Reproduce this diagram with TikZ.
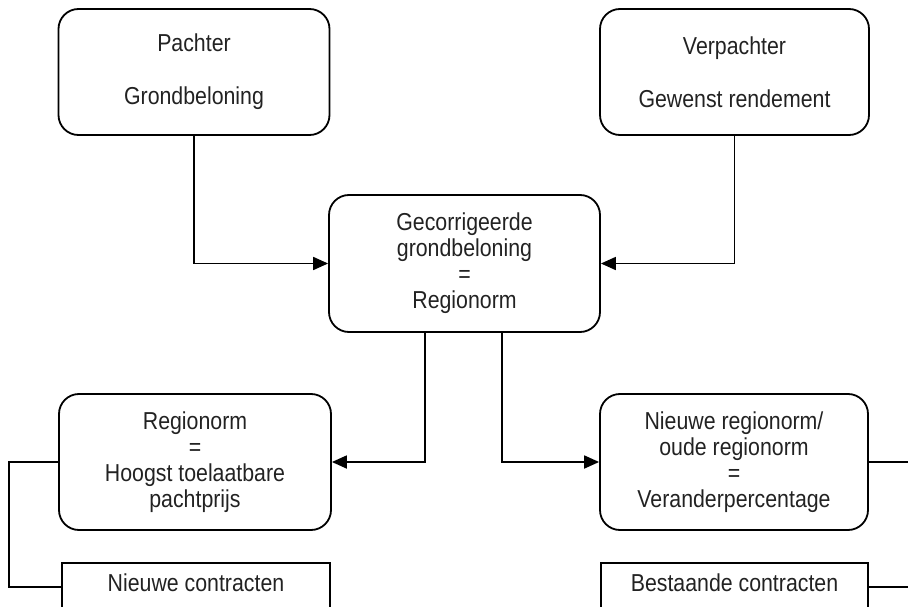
\documentclass[tikz,border=0pt]{standalone}
\usepackage{fontspec}
\newfontfamily\dfont{Liberation Sans}[FakeStretch=0.87]
\usetikzlibrary{arrows.meta}
\definecolor{txt}{RGB}{34,34,34}
\begin{document}
\begin{tikzpicture}[x=1pt,y=-1pt,
  box/.style={draw, line width=1.8pt, rounded corners=20pt, align=center,
    font=\dfont\fontsize{24.5}{26}\selectfont, text=txt, inner sep=0pt},
  sqbox/.style={box, rounded corners=0pt},
  conn/.style={line width=1.8pt},
  arr/.style={conn, -{Triangle[length=15pt,width=13pt]}}]
\useasboundingbox (0,0) rectangle (908,607);
\clip (0,0) rectangle (908,607);
\node[box, minimum width=271pt, minimum height=126pt] (pachter) at (194,72) {Pachter\\[27pt]Grondbeloning};
\node[box, minimum width=269pt, minimum height=126pt] (verpachter) at (734.5,72) {Verpachter\\[27pt]Gewenst rendement};
\node[box, minimum width=271pt, minimum height=137pt] (center) at (464.5,263.5) {Gecorrigeerde\\grondbeloning\\=\\Regionorm};
\node[box, minimum width=272pt, minimum height=136pt] (regio) at (195,462) {Regionorm\\=\\Hoogst toelaatbare\\pachtprijs};
\node[box, minimum width=268pt, minimum height=136pt] (nieuw) at (734,462) {Nieuwe regionorm/\\oude regionorm\\=\\Veranderpercentage};
\node[sqbox, minimum width=268pt, minimum height=74pt] (newc) at (196,600) {Nieuwe contracten\\\strut};
\node[sqbox, minimum width=267pt, minimum height=74pt] (bestc) at (734.5,600) {Bestaande contracten\\\strut};
\coordinate (rightedge) at (912,0);
\coordinate (leftrail) at (9,0);
\draw[arr] (pachter.south) |- (center.west);
\draw[arr] (verpachter.south) |- (center.east);
\draw[arr] ([xshift=-39.5pt]center.south) |- (regio.east);
\draw[arr] ([xshift=37.5pt]center.south) |- (nieuw.west);
\draw[conn] (regio.west) -- (regio.west -| leftrail) |- ([yshift=13pt]newc.west);
\draw[conn] (nieuw.east) -- (nieuw.east -| rightedge);
\draw[conn] ([yshift=13pt]bestc.east) -- ([yshift=13pt]bestc.east -| rightedge);
\end{tikzpicture}
\end{document}
